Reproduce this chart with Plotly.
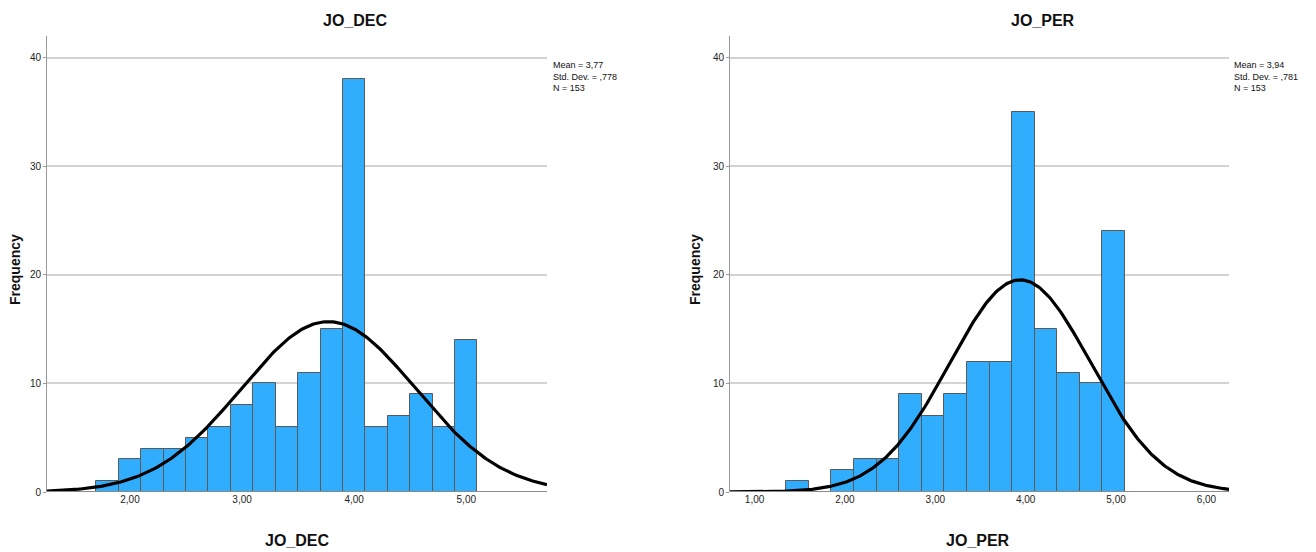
import numpy as np
import plotly.graph_objects as go

W, H = 1316, 552

# ---- data ----
dec_bin_start = 1.7
dec_bin_width = 0.2
dec_counts = [1, 3, 4, 4, 5, 6, 8, 10, 6, 11, 15, 38, 6, 7, 9, 6, 14]
dec_mean, dec_sd, dec_n = 3.77, 0.778, 153

per_bin_start = 1.35
per_bin_width = 0.25
per_counts = [1, 0, 2, 3, 3, 9, 7, 9, 12, 12, 35, 15, 11, 10, 24]
per_mean, per_sd, per_n = 3.94, 0.781, 153

dec_ticks = [2, 3, 4, 5]
dec_ticktext = ["2,00", "3,00", "4,00", "5,00"]
per_ticks = [1, 2, 3, 4, 5, 6]
per_ticktext = ["1,00", "2,00", "3,00", "4,00", "5,00", "6,00"]
y_ticks = [0, 10, 20, 30, 40]

dec_xrange = [1.26, 5.72]
per_xrange = [0.728, 6.25]
y_range = [0, 42.0]

BAR_COLOR = "#31adfd"
BAR_LINE = "#5a5a5a"
FONT = "Liberation Sans"


def centers(start, width, counts):
    return [start + width * (i + 0.5) for i in range(len(counts))]


def normal_curve(mean, sd, n, width, xr):
    xs = np.linspace(xr[0], xr[1], 300)
    ys = n * width / (sd * np.sqrt(2 * np.pi)) * np.exp(-0.5 * ((xs - mean) / sd) ** 2)
    return xs, ys


fig = go.Figure()

fig.add_trace(go.Bar(
    x=centers(dec_bin_start, dec_bin_width, dec_counts), y=dec_counts,
    width=dec_bin_width, marker=dict(color=BAR_COLOR, line=dict(color=BAR_LINE, width=1)),
    xaxis="x", yaxis="y", showlegend=False))
cx, cy = normal_curve(dec_mean, dec_sd, dec_n, dec_bin_width, dec_xrange)
fig.add_trace(go.Scatter(x=cx, y=cy, mode="lines", line=dict(color="black", width=3.2),
                         xaxis="x", yaxis="y", showlegend=False))

fig.add_trace(go.Bar(
    x=centers(per_bin_start, per_bin_width, per_counts), y=per_counts,
    width=per_bin_width, marker=dict(color=BAR_COLOR, line=dict(color=BAR_LINE, width=1)),
    xaxis="x2", yaxis="y2", showlegend=False))
cx, cy = normal_curve(per_mean, per_sd, per_n, per_bin_width, per_xrange)
fig.add_trace(go.Scatter(x=cx, y=cy, mode="lines", line=dict(color="black", width=3.2),
                         xaxis="x2", yaxis="y2", showlegend=False))

ydom = [(H - 492) / H, (H - 36) / H]

xcommon = dict(showgrid=False, zeroline=False, showline=False, ticks="", automargin=False,
               tickfont=dict(family=FONT, size=10, color="#222"), fixedrange=True)
ycommon = dict(range=y_range, domain=ydom, tickvals=y_ticks, showgrid=True, automargin=False,
               gridcolor="#d3d3d3", gridwidth=2, zeroline=False,
               showline=True, linecolor="#9a9a9a", linewidth=1,
               ticks="outside", ticklen=3, tickcolor="#9a9a9a",
               tickfont=dict(family=FONT, size=10, color="#222"))

fig.update_layout(
    width=W, height=H, margin=dict(l=0, r=0, t=0, b=0, autoexpand=False),
    plot_bgcolor="white", paper_bgcolor="white", bargap=0,
    xaxis=dict(domain=[47 / W, 547 / W], range=dec_xrange, tickvals=dec_ticks,
               ticktext=dec_ticktext, anchor="y", **xcommon),
    yaxis=dict(anchor="x", **ycommon),
    xaxis2=dict(domain=[730 / W, 1229 / W], range=per_xrange, tickvals=per_ticks,
                ticktext=per_ticktext, anchor="y2", **xcommon),
    yaxis2=dict(anchor="x2", **ycommon),
)

# baseline lines
for xa, ya in (("x", "y"), ("x2", "y2")):
    fig.add_shape(type="line", xref=f"{xa} domain", yref=ya, x0=0, x1=1, y0=0, y1=0,
                  line=dict(color="#8a8a8a", width=2), layer="above")

ann = []
def txt(x, y, t, size, bold=False, xanchor="center", yanchor="middle", angle=0, family=FONT, align="center"):
    ann.append(dict(x=x / W, y=1 - y / H, xref="paper", yref="paper", text=(f"<b>{t}</b>" if bold else t),
                    showarrow=False, xanchor=xanchor, yanchor=yanchor, textangle=angle,
                    font=dict(family=family, size=size, color="#111"), align=align))

txt(355, 20, "JO_DEC", 16, bold=True)
txt(1043, 20, "JO_PER", 16, bold=True)
txt(297, 540, "JO_DEC", 16, bold=True)
txt(978, 540, "JO_PER", 16, bold=True)
txt(15, 270, "Frequency", 14, bold=True, angle=-90)
txt(695, 270, "Frequency", 14, bold=True, angle=-90)
txt(551, 58, f"Mean = {dec_mean:.2f}".replace(".", ",") + "<br>Std. Dev. = ,778<br>N = 153", 9,
    xanchor="left", yanchor="top", align="left")
txt(1232, 58, f"Mean = {per_mean:.2f}".replace(".", ",") + "<br>Std. Dev. = ,781<br>N = 153", 9,
    xanchor="left", yanchor="top", align="left")
fig.update_layout(annotations=ann)

fig.write_html("out.html", config={"displayModeBar": False},
               post_script="document.body.style.margin='0';document.body.style.overflow='hidden';")
